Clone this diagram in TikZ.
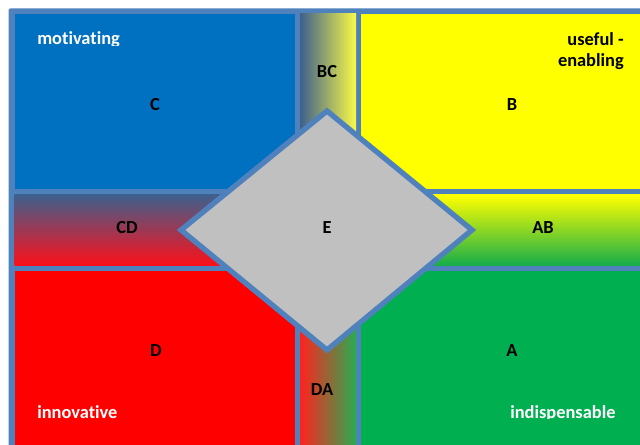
\documentclass[tikz,border=0pt]{standalone}
\usepackage{fontspec}
\setmainfont[Ligatures=NoCommon]{Carlito}
\definecolor{bord}{RGB}{79,129,189}
\definecolor{cblue}{RGB}{0,112,192}
\definecolor{cyel}{RGB}{255,255,0}
\definecolor{cred}{RGB}{255,0,0}
\definecolor{cgreen}{RGB}{0,176,80}
\definecolor{slate}{RGB}{62,96,140}
\definecolor{dgrey}{RGB}{192,192,192}
\begin{document}
\begin{tikzpicture}[x=0.75pt,y=-0.75pt,
  lbl/.style={font=\fontsize{13.8}{16}\selectfont\bfseries, inner sep=0pt, text=black},
  wlbl/.style={lbl, text=white}]
\useasboundingbox (0,0) rectangle (640,445);
\fill[white] (0,0) rectangle (640,445);
\fill[bord, rounded corners=1.5pt] (8.5,8.5) rectangle (645,450);
% quadrants
\fill[cblue] (14.5,14) rectangle (295,189.5);
\fill[cyel] (361,14) rectangle (640,189.5);
\fill[cred] (14.5,271) rectangle (295,445);
\fill[cgreen] (361,271) rectangle (640,445);
% gradient strips
\shade[left color=slate, right color={rgb,255:red,250;green,250;blue,70}] (300,14) rectangle (356,189.5);
\shade[top color=slate, bottom color={rgb,255:red,255;green,15;blue,25}] (14.5,195) rectangle (295,266);
\shade[top color=cyel, bottom color={rgb,255:red,20;green,172;blue,75}] (356,195) rectangle (640,266);
\shade[left color={rgb,255:red,255;green,35;blue,30}, right color={rgb,255:red,40;green,172;blue,80}] (300,266) rectangle (356,445);
% diamond
\coordinate (dt) at (327,111);
\coordinate (dr) at (472,230);
\coordinate (db) at (327,350);
\coordinate (dl) at (181,230);
\filldraw[fill=dgrey, draw=bord, line width=4pt] (dt) -- (dr) -- (db) -- (dl) -- cycle;
% labels
\begin{scope}
\clip (14,14) rectangle (295,45.5);
\node[wlbl, anchor=base west] (mot) at (37,44.7) {motivating};
\end{scope}
\node[lbl, anchor=base east] (use) at (624,46) {useful -};
\node[lbl, anchor=base east] (ena) at (624,67) {enabling};
\node[lbl] (C) at (155,105) {C};
\node[lbl] (BC) at (327,72) {BC};
\node[lbl] (B) at (512,105) {B};
\node[lbl] (CD) at (127,228) {CD};
\node[lbl] (E) at (327,228) {E};
\node[lbl] (AB) at (543,228) {AB};
\node[lbl] (D) at (156,351) {D};
\node[lbl] (A) at (512,351) {A};
\node[lbl] (DA) at (322,390) {DA};
\node[wlbl, anchor=base west] (inn) at (37,418.5) {innovative};
\begin{scope}
\clip (361,271) rectangle (640,419);
\node[wlbl, anchor=base west] (ind) at (510,418.5) {indispensable};
\end{scope}
\end{tikzpicture}
\end{document}
